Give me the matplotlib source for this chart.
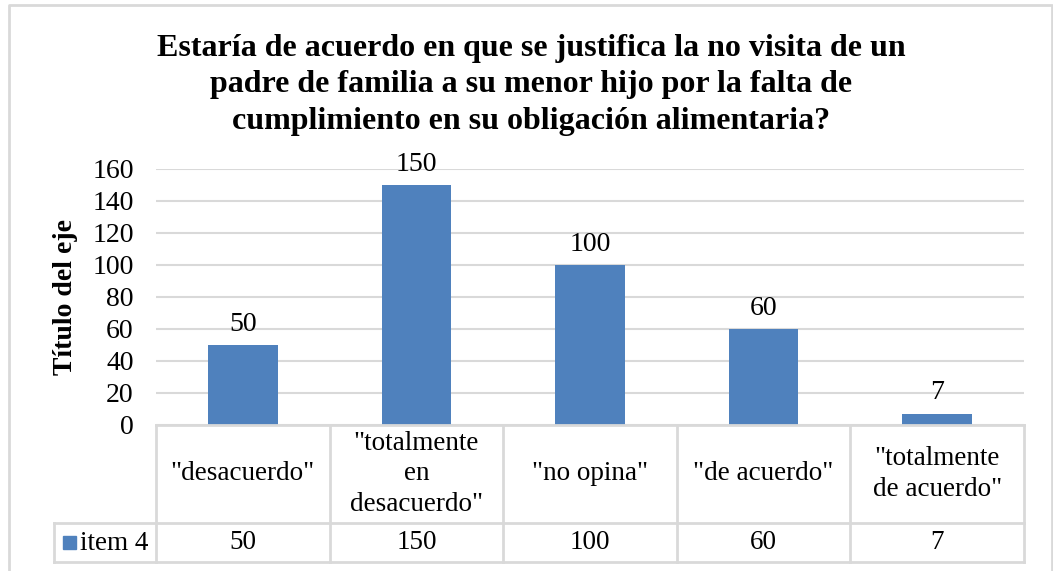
import matplotlib
matplotlib.use("Agg")
import matplotlib.pyplot as plt
import numpy as np
from matplotlib.lines import Line2D
from matplotlib.patches import Rectangle
from matplotlib.transforms import blended_transform_factory

categorias = ['"desacuerdo"', '"totalmente\nen\ndesacuerdo"', '"no opina"',
              '"de acuerdo"', '"totalmente\nde acuerdo"']
valores = [50, 150, 100, 60, 7]
serie = "item 4"
titulo = ("Estaría de acuerdo en que se justifica la no visita de un\n"
          "padre de familia a su menor hijo por la falta de\n"
          "cumplimiento en su obligación alimentaria?")
yticks = [0, 20, 40, 60, 80, 100, 120, 140, 160]

AZUL = "#4F81BD"
GRIS = "#D9D9D9"
W, H = 1053, 571
FS = 19.5

plt.rcParams["font.family"] = ["Liberation Serif", "DejaVu Serif"]

fig = plt.figure(figsize=(W / 100, H / 100), dpi=100)
ax = fig.add_axes([156 / W, 1 - 425 / H, 868 / W, 256 / H])

x = np.arange(len(valores))
ax.bar(x, valores, width=0.4, color=AZUL, zorder=2)
for xi, v in zip(x, valores):
    ax.annotate(str(v), (xi, v), xytext=(0, 6), textcoords="offset points",
                ha="center", va="bottom", fontsize=FS + 0.5)

ax.set_xlim(-0.5, len(valores) - 0.5)
ax.set_ylim(0, 160)
ax.set_yticks(yticks)
ax.tick_params(axis="y", length=0, labelsize=FS + 0.5, pad=16)
ax.set_xticks([])
for s in ax.spines.values():
    s.set_visible(False)
ax.grid(axis="y", color=GRIS, lw=1.5, zorder=0)
ax.set_ylabel("Título del eje", fontsize=FS + 0.5, fontweight="bold",
              labelpad=10)

# tabla de datos
tr = blended_transform_factory(ax.transData, ax.transAxes)
y_top, y_mid, y_bot = 0.0, -98 / 256, -137 / 256
x_leg = -0.5 - 102 / 173.6
kw = dict(transform=tr, color=GRIS, lw=2, clip_on=False, zorder=3)
ax.add_line(Line2D([-0.5, 4.5], [y_top, y_top], **kw))
ax.add_line(Line2D([x_leg, 4.5], [y_mid, y_mid], **kw))
ax.add_line(Line2D([x_leg, 4.5], [y_bot, y_bot], **kw))
ax.add_line(Line2D([x_leg, x_leg], [y_mid, y_bot], **kw))
for b in np.arange(len(valores) + 1) - 0.5:
    ax.add_line(Line2D([b, b], [y_top, y_bot], **kw))
for xi, cat, v in zip(x, categorias, valores):
    ax.text(xi, (y_top + y_mid) / 2, cat, transform=tr, ha="center",
            va="center", fontsize=FS, linespacing=1.3)
    ax.text(xi, (y_mid + y_bot) / 2, str(v), transform=tr, ha="center",
            va="center", fontsize=FS)

# clave de leyenda
fig.patches.append(Rectangle((63 / W, 1 - 549 / H), 13 / W, 13 / H,
                             transform=fig.transFigure, color=AZUL))
fig.text(80 / W, 1 - 543 / H, serie, ha="left", va="center", fontsize=FS)

fig.suptitle(titulo, x=531 / W, y=1 - 34 / H, va="top", fontsize=23,
             fontweight="bold", linespacing=1.33)

# marco del gráfico
fig.add_artist(Line2D([9 / W, 9 / W, 1052 / W, 1052 / W],
                      [0, 1 - 5 / H, 1 - 5 / H, 0],
                      transform=fig.transFigure, color=GRIS, lw=2))

fig.savefig("out.png", dpi=100, facecolor="white")
